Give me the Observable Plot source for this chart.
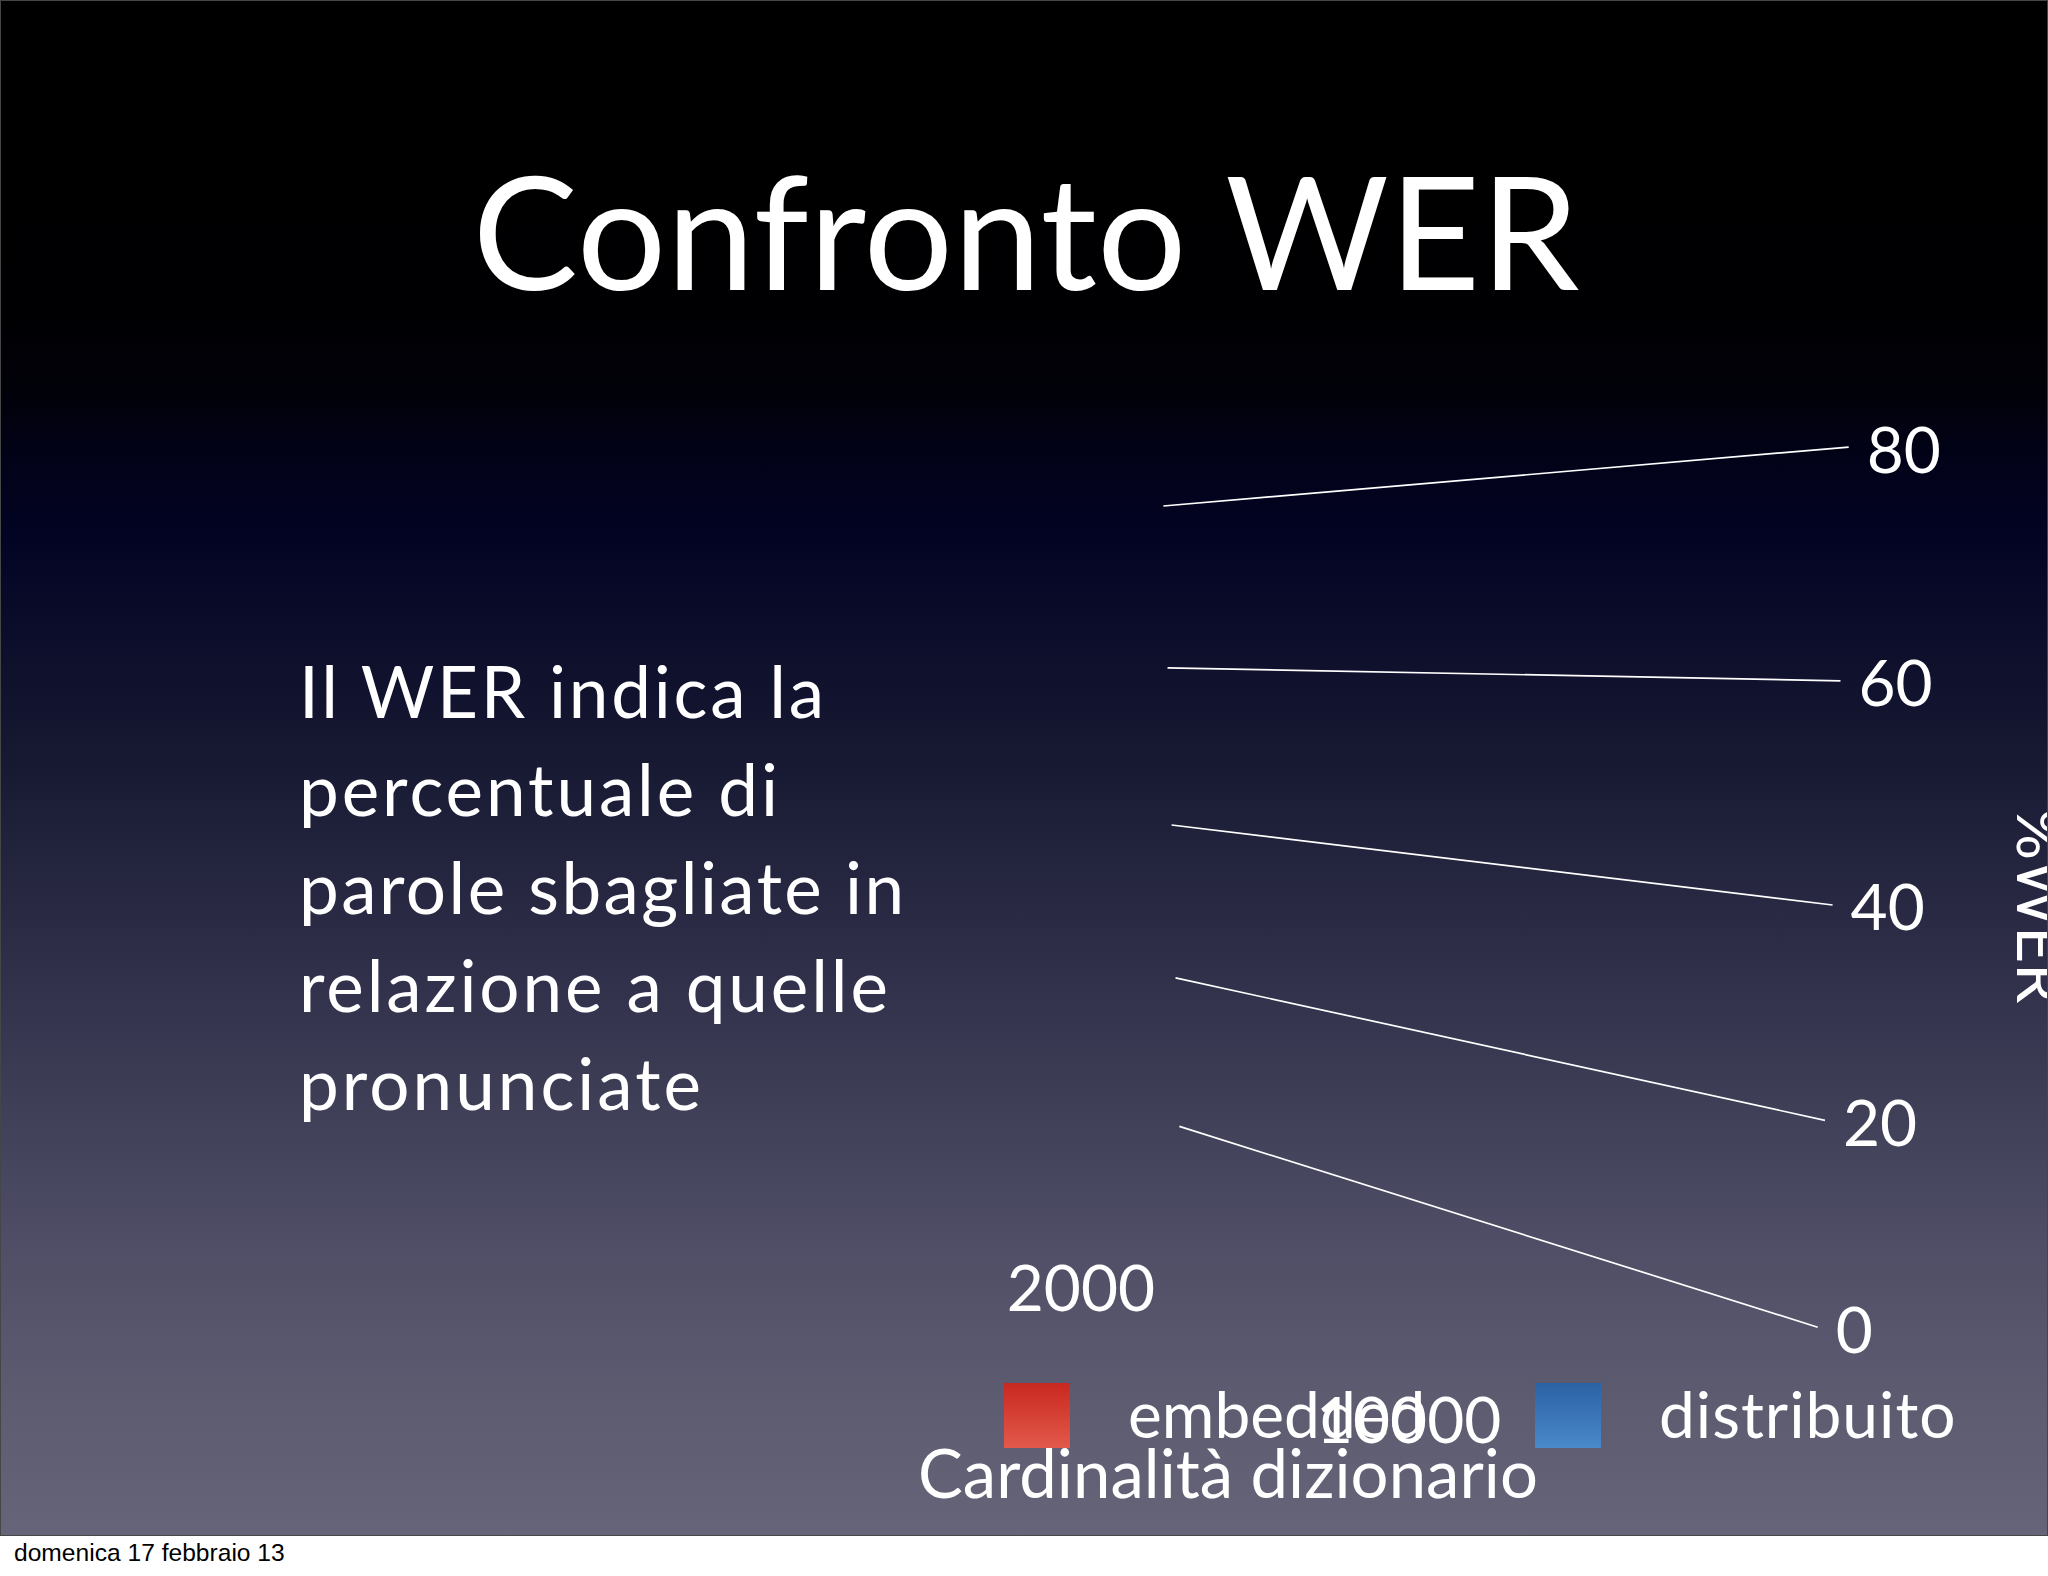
<!DOCTYPE html>
<html>
<head>
<meta charset="utf-8">
<script src="https://cdn.jsdelivr.net/npm/d3@7"></script>
<script src="https://cdn.jsdelivr.net/npm/@observablehq/plot@0.6"></script>
<style>
  html, body { margin: 0; padding: 0; background: #ffffff; }
  #slide {
    position: absolute; left: 0; top: 0; width: 2048px; height: 1536px;
    box-sizing: border-box; border: 1px solid #464646; overflow: hidden;
    background: linear-gradient(to bottom,
      #000000 0%, #000002 19%, #010108 25%, #020219 30%, #030424 35%,
      #181a33 50%, #2a2a45 60%, #3c3c55 70.5%, #4f4e66 81%, #5c5b70 91%, #656478 100%);
  }
  #slide svg { position: absolute; left: -1px; top: -1px; }
  #footer {
    position: absolute; left: 14px; top: 1541px;
    font-family: "Liberation Sans", Arial, sans-serif; font-size: 24.6px;
    line-height: 1; color: #000; white-space: nowrap;
  }
</style>
</head>
<body>
<div id="slide"></div>
<div id="footer"></div>
<script>
// ---- data ----
const titleText = "Confronto WER";
const bodyLines = ["Il WER indica la", "percentuale di", "parole sbagliate in", "relazione a quelle", "pronunciate"];
const ticks = [0, 20, 40, 60, 80];
const categories = ["2000", "10000"];
const series = ["embedded", "distribuito"];
const seriesColors = [["#c9281f", "#e2594b"], ["#2b62a4", "#4a89ca"]];
const yLabel = "%WER";
const xLabel = "Cardinalità dizionario";
const footerText = "domenica 17 febbraio 13";

// ---- layout (perspective of the 3D wall, text widths) ----
const FONT = "Lato, 'Open Sans', sans-serif";
const W = 2048, H = 1536;
const quad = { p00: [1180, 1127], p10: [1819, 1328], p11: [1850, 447], p01: [1164, 506] };
const bodyWidths = [525, 479, 605, 589, 402];
const legendX = [1004, 1535];
const legendTextWidths = [null, 227 * 1.306];
const vMax = d3.max(ticks);

function makeHomography(q) {
  const [x0, y0] = q.p00, [x1, y1] = q.p10, [x2, y2] = q.p11, [x3, y3] = q.p01;
  const dx1 = x1 - x2, dx2 = x3 - x2, dx3 = x0 - x1 + x2 - x3;
  const dy1 = y1 - y2, dy2 = y3 - y2, dy3 = y0 - y1 + y2 - y3;
  const den = dx1 * dy2 - dx2 * dy1;
  const g = (dx3 * dy2 - dx2 * dy3) / den;
  const h = (dx1 * dy3 - dx3 * dy1) / den;
  const a = x1 - x0 + g * x1, b = x3 - x0 + h * x3, c = x0;
  const d = y1 - y0 + g * y1, e = y3 - y0 + h * y3, f = y0;
  return (u, w) => {
    const z = g * u + h * w + 1;
    return [(a * u + b * w + c) / z, (d * u + e * w + f) / z];
  };
}
const homo = makeHomography(quad);
const wallProjection = d3.geoTransform({
  point(depth, value) {
    const [x, y] = homo(depth, value / vMax);
    this.stream.point(x, y);
  }
});
const catDepth = d3.scalePoint().domain(categories).range([-0.25, 0.44]);
const catValue = d3.scalePoint().domain(categories).range([-29.3, -27.4]);

// ---- chart ----
const chart = Plot.plot({
  width: W, height: H, margin: 0,
  projection: wallProjection,
  style: { background: "transparent", overflow: "visible", fontFamily: FONT, color: "white" },
  marks: [
    Plot.link(ticks, { x1: 0, x2: 1, y1: (d) => d, y2: (d) => d, stroke: "white", strokeWidth: 1.7, curve: "linear" }),
    Plot.text(ticks, { x: 1, y: (d) => d, text: (d) => String(d), dx: 18, dy: 5, textAnchor: "start", fill: "white", fontSize: 64 }),
    Plot.text(categories, { x: (d) => catDepth(d), y: (d) => catValue(d), text: (d) => d, fill: "white", fontSize: 64 })
  ]
});
const slide = document.getElementById("slide");
slide.appendChild(chart);

// ---- slide text, axis titles and legend ----
const svg = d3.select(slide).append("svg")
  .attr("width", W).attr("height", H)
  .style("font-family", FONT);

const defs = svg.append("defs");
seriesColors.forEach(([c0, c1], i) => {
  const lg = defs.append("linearGradient").attr("id", "sw" + i).attr("x1", 0).attr("y1", 0).attr("x2", 0).attr("y2", 1);
  lg.append("stop").attr("offset", "0%").attr("stop-color", c0);
  lg.append("stop").attr("offset", "100%").attr("stop-color", c1);
});

svg.append("text").attr("x", 1026).attr("y", 290).attr("text-anchor", "middle")
  .attr("fill", "white").attr("font-size", 158)
  .attr("textLength", 1107).attr("lengthAdjust", "spacing").text(titleText);

svg.append("g").selectAll("text").data(bodyLines).join("text")
  .attr("x", 299).attr("y", (d, i) => 718 + i * 98)
  .attr("fill", "white").attr("font-size", 71)
  .attr("textLength", (d, i) => bodyWidths[i]).attr("lengthAdjust", "spacing")
  .text((d) => d);

svg.append("text").attr("transform", "translate(2017,906) rotate(90)").attr("text-anchor", "middle")
  .attr("fill", "white").attr("font-size", 64).text(yLabel);

svg.append("text").attr("x", 1228).attr("y", 1498).attr("text-anchor", "middle")
  .attr("fill", "white").attr("font-size", 67)
  .attr("textLength", 620).attr("lengthAdjust", "spacing").text(xLabel);

const lg = svg.append("g").selectAll("g").data(series).join("g")
  .attr("transform", (d, i) => `translate(${legendX[i]},1383)`);
lg.append("rect").attr("width", 66).attr("height", 65).attr("fill", (d, i) => `url(#sw${i})`);
lg.append("text").attr("x", 124).attr("y", 55).attr("fill", "white").attr("font-size", 64)
  .each(function (d, i) {
    if (legendTextWidths[i]) d3.select(this).attr("textLength", legendTextWidths[i]).attr("lengthAdjust", "spacing");
  })
  .text((d) => d);

document.getElementById("footer").textContent = footerText;
</script>
</body>
</html>
